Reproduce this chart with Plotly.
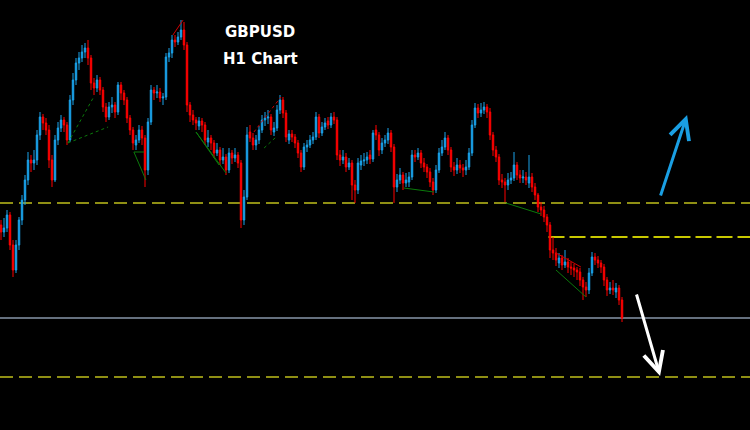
import plotly.graph_objects as go

# GBPUSD H1 bars (left to right)
open_ = [1.3005,1.2998,1.3002,1.3015,1.2985,1.2960,1.2985,1.3010,1.3030,1.3050,
         1.3070,1.3067,1.3070,1.3095,1.3113,1.3107,1.3100,1.3070,1.3050,1.3090,
         1.3102,1.3110,1.3105,1.3090,1.3130,1.3150,1.3167,1.3172,1.3178,1.3182,
         1.3172,1.3147,1.3142,1.3150,1.3140,1.3123,1.3113,1.3123,1.3125,1.3118,
         1.3145,1.3137,1.3130,1.3112,1.3100,1.3085,1.3090,1.3100,1.3092,1.3060,
         1.3108,1.3140,1.3137,1.3138,1.3132,1.3133,1.3173,1.3177,1.3190,1.3188,
         1.3193,1.3200,1.3185,1.3125,1.3115,1.3110,1.3104,1.3109,1.3105,1.3088,
         1.3092,1.3087,1.3077,1.3080,1.3070,1.3073,1.3060,1.3077,1.3072,1.3075,
         1.3067,1.3010,1.3033,1.3098,1.3092,1.3085,1.3090,1.3100,1.3110,1.3112,
         1.3113,1.3098,1.3102,1.3120,1.3130,1.3117,1.3090,1.3096,1.3093,1.3087,
         1.3077,1.3063,1.3083,1.3085,1.3090,1.3093,1.3113,1.3097,1.3103,1.3109,
         1.3105,1.3113,1.3110,1.3075,1.3070,1.3073,1.3063,1.3067,1.3045,1.3040,
         1.3065,1.3069,1.3070,1.3075,1.3071,1.3100,1.3095,1.3080,1.3087,1.3090,
         1.3097,1.3083,1.3043,1.3050,1.3055,1.3047,1.3048,1.3053,1.3075,1.3073,
         1.3077,1.3067,1.3063,1.3058,1.3048,1.3040,1.3060,1.3077,1.3083,1.3092,
         1.3080,1.3063,1.3060,1.3065,1.3062,1.3060,1.3063,1.3077,1.3105,1.3122,
         1.3117,1.3120,1.3123,1.3118,1.3095,1.3080,1.3073,1.3050,1.3048,1.3045,
         1.3050,1.3052,1.3065,1.3055,1.3052,1.3053,1.3047,1.3053,1.3043,1.3035,
         1.3023,1.3020,1.3013,1.3005,1.2980,1.2977,1.2967,1.2972,1.2965,1.2968,
         1.2963,1.2962,1.2960,1.2958,1.2950,1.2943,1.2940,1.2957,1.2973,1.2970,
         1.2967,1.2963,1.2950,1.2940,1.2942,1.2938,1.2942,1.2930]
high = [1.3010,1.3012,1.3020,1.3018,1.2990,1.2990,1.3013,1.3035,1.3055,1.3078,
        1.3075,1.3080,1.3100,1.3118,1.3116,1.3112,1.3105,1.3075,1.3095,1.3108,
        1.3115,1.3113,1.3108,1.3135,1.3157,1.3172,1.3178,1.3185,1.3187,1.3190,
        1.3175,1.3152,1.3155,1.3153,1.3143,1.3127,1.3128,1.3133,1.3128,1.3148,
        1.3148,1.3140,1.3133,1.3115,1.3103,1.3095,1.3105,1.3104,1.3095,1.3112,
        1.3145,1.3143,1.3145,1.3142,1.3137,1.3177,1.3182,1.3195,1.3195,1.3198,
        1.3210,1.3208,1.3188,1.3128,1.3120,1.3113,1.3113,1.3112,1.3108,1.3100,
        1.3095,1.3090,1.3087,1.3083,1.3082,1.3076,1.3082,1.3080,1.3082,1.3078,
        1.3070,1.3040,1.3103,1.3105,1.3097,1.3095,1.3104,1.3115,1.3118,1.3120,
        1.3116,1.3108,1.3125,1.3135,1.3133,1.3120,1.3100,1.3100,1.3096,1.3090,
        1.3080,1.3087,1.3090,1.3095,1.3098,1.3118,1.3116,1.3108,1.3112,1.3113,
        1.3117,1.3118,1.3113,1.3080,1.3080,1.3077,1.3072,1.3070,1.3050,1.3072,
        1.3075,1.3077,1.3078,1.3080,1.3100,1.3105,1.3098,1.3092,1.3095,1.3102,
        1.3100,1.3086,1.3056,1.3062,1.3058,1.3057,1.3058,1.3080,1.3080,1.3082,
        1.3080,1.3072,1.3066,1.3062,1.3052,1.3065,1.3082,1.3090,1.3098,1.3095,
        1.3083,1.3068,1.3072,1.3070,1.3066,1.3070,1.3082,1.3110,1.3127,1.3126,
        1.3127,1.3128,1.3126,1.3122,1.3098,1.3084,1.3076,1.3056,1.3052,1.3057,
        1.3058,1.3078,1.3068,1.3060,1.3060,1.3058,1.3075,1.3057,1.3047,1.3037,
        1.3028,1.3024,1.3016,1.3008,1.2993,1.2982,1.2977,1.2975,1.2980,1.2972,
        1.2968,1.2966,1.2963,1.2962,1.2953,1.2948,1.2962,1.2978,1.2977,1.2974,
        1.2970,1.2966,1.2953,1.2948,1.2950,1.2947,1.2945,1.2933]
low = [1.2990,1.2993,1.2998,1.2980,1.2953,1.2957,1.2980,1.3005,1.3025,1.3045,
       1.3058,1.3060,1.3065,1.3090,1.3100,1.3095,1.3062,1.3043,1.3048,1.3085,
       1.3098,1.3098,1.3085,1.3088,1.3125,1.3145,1.3160,1.3168,1.3172,1.3165,
       1.3140,1.3135,1.3138,1.3135,1.3118,1.3108,1.3110,1.3117,1.3112,1.3115,
       1.3130,1.3125,1.3107,1.3095,1.3080,1.3080,1.3087,1.3085,1.3043,1.3055,
       1.3105,1.3130,1.3132,1.3128,1.3125,1.3130,1.3168,1.3172,1.3183,1.3185,
       1.3190,1.3180,1.3118,1.3108,1.3105,1.3100,1.3100,1.3098,1.3085,1.3083,
       1.3080,1.3072,1.3074,1.3065,1.3066,1.3055,1.3057,1.3066,1.3068,1.3062,
       1.3002,1.3005,1.3030,1.3088,1.3080,1.3080,1.3086,1.3097,1.3104,1.3106,
       1.3095,1.3094,1.3099,1.3116,1.3112,1.3088,1.3086,1.3088,1.3082,1.3072,
       1.3058,1.3060,1.3078,1.3082,1.3086,1.3090,1.3092,1.3094,1.3100,1.3101,
       1.3102,1.3106,1.3070,1.3064,1.3066,1.3058,1.3060,1.3030,1.3027,1.3036,
       1.3060,1.3064,1.3066,1.3066,1.3068,1.3090,1.3074,1.3076,1.3083,1.3086,
       1.3078,1.3027,1.3038,1.3046,1.3040,1.3043,1.3043,1.3050,1.3068,1.3070,
       1.3062,1.3058,1.3052,1.3043,1.3035,1.3037,1.3057,1.3074,1.3080,1.3075,
       1.3058,1.3054,1.3056,1.3057,1.3053,1.3055,1.3060,1.3074,1.3102,1.3112,
       1.3113,1.3116,1.3112,1.3090,1.3074,1.3068,1.3045,1.3042,1.3028,1.3040,
       1.3046,1.3049,1.3050,1.3047,1.3047,1.3045,1.3042,1.3038,1.3030,1.3018,
       1.3014,1.3008,1.2998,1.2972,1.2970,1.2964,1.2962,1.2960,1.2962,1.2957,
       1.2955,1.2953,1.2950,1.2944,1.2930,1.2933,1.2936,1.2954,1.2965,1.2962,
       1.2957,1.2944,1.2934,1.2936,1.2935,1.2932,1.2925,1.2908]
close = [1.2998,1.3002,1.3015,1.2985,1.2960,1.2985,1.3010,1.3030,1.3050,1.3070,
         1.3067,1.3070,1.3095,1.3113,1.3107,1.3100,1.3070,1.3050,1.3090,1.3102,
         1.3110,1.3105,1.3090,1.3130,1.3150,1.3167,1.3172,1.3178,1.3182,1.3172,
         1.3147,1.3142,1.3150,1.3140,1.3123,1.3113,1.3123,1.3125,1.3118,1.3145,
         1.3137,1.3130,1.3112,1.3100,1.3087,1.3090,1.3100,1.3092,1.3060,1.3108,
         1.3140,1.3137,1.3138,1.3132,1.3133,1.3173,1.3177,1.3190,1.3188,1.3193,
         1.3200,1.3185,1.3125,1.3115,1.3110,1.3107,1.3109,1.3105,1.3090,1.3092,
         1.3087,1.3077,1.3080,1.3070,1.3073,1.3060,1.3077,1.3072,1.3075,1.3067,
         1.3010,1.3033,1.3095,1.3092,1.3085,1.3090,1.3100,1.3110,1.3112,1.3113,
         1.3100,1.3102,1.3120,1.3130,1.3117,1.3093,1.3096,1.3093,1.3087,1.3077,
         1.3063,1.3083,1.3085,1.3090,1.3093,1.3113,1.3097,1.3103,1.3107,1.3105,
         1.3113,1.3110,1.3075,1.3070,1.3073,1.3063,1.3067,1.3045,1.3040,1.3067,
         1.3069,1.3070,1.3073,1.3071,1.3097,1.3095,1.3080,1.3087,1.3090,1.3097,
         1.3083,1.3043,1.3050,1.3055,1.3047,1.3050,1.3053,1.3075,1.3073,1.3077,
         1.3067,1.3063,1.3058,1.3048,1.3040,1.3060,1.3077,1.3083,1.3092,1.3080,
         1.3063,1.3060,1.3065,1.3062,1.3060,1.3063,1.3077,1.3105,1.3122,1.3117,
         1.3120,1.3123,1.3118,1.3095,1.3080,1.3073,1.3050,1.3048,1.3045,1.3050,
         1.3052,1.3065,1.3055,1.3052,1.3053,1.3050,1.3053,1.3043,1.3035,1.3023,
         1.3020,1.3013,1.3005,1.2980,1.2977,1.2970,1.2972,1.2965,1.2968,1.2963,
         1.2962,1.2960,1.2958,1.2950,1.2943,1.2940,1.2957,1.2973,1.2970,1.2967,
         1.2963,1.2950,1.2940,1.2942,1.2940,1.2942,1.2930,1.2912]
bars = list(range(len(close)))

# horizontal levels
level_upper = 1.3027
level_mid = 1.2993
level_target = 1.2853
level_mid_start_bar = 182.5

# pattern lines: (bar0, price0, bar1, price1, colour, dash)
pattern_lines = [
    (22.3, 1.3087, 30.7, 1.3132, "#0b7a0b", "dot"),
    (22.3, 1.3087, 35.7, 1.3103, "#0b7a0b", "dot"),
    (44.3, 1.3078, 47.7, 1.3078, "#0b7a0b", "solid"),
    (44.3, 1.3078, 48.3, 1.3050, "#0b7a0b", "solid"),
    (65.0, 1.3098, 75.0, 1.3057, "#0b7a0b", "solid"),
    (65.0, 1.3098, 72.7, 1.3065, "#0b7a0b", "solid"),
    (57.3, 1.3195, 60.7, 1.3210, "#d00000", "solid"),
    (84.3, 1.3098, 93.3, 1.3133, "#d00000", "dot"),
    (87.7, 1.3082, 91.7, 1.3093, "#0b7a0b", "dot"),
    (134.3, 1.3042, 144.3, 1.3038, "#0b7a0b", "solid"),
    (168.3, 1.3027, 180.0, 1.3016, "#0b7a0b", "solid"),
    (185.0, 1.2960, 195.0, 1.2933, "#0b7a0b", "solid"),
    (185.0, 1.2977, 193.3, 1.2963, "#d00000", "solid"),
]

# arrows: (tail bar, tail price, head bar, head price, colour)
arrows = [
    (219.7, 1.3033, 228.7, 1.3115, "#1a9fe3"),
    (211.7, 1.2937, 219.7, 1.2854, "#ffffff"),
]

fig = go.Figure()
fig.add_trace(go.Candlestick(
    x=bars, open=open_, high=high, low=low, close=close,
    increasing=dict(line=dict(color="#1aa3ea", width=1), fillcolor="#1aa3ea"),
    decreasing=dict(line=dict(color="#ff0000", width=1), fillcolor="#ff0000"),
    whiskerwidth=0, showlegend=False, hoverinfo="skip",
))

shapes = []
olive = "#8f8f14"
shapes.append(dict(type="line", xref="paper", x0=0, x1=1, yref="y", y0=level_upper, y1=level_upper,
                   line=dict(color=olive, width=2, dash="13px,6px"), layer="below"))
shapes.append(dict(type="line", xref="x", x0=level_mid_start_bar, x1=260, yref="y", y0=level_mid, y1=level_mid,
                   line=dict(color="#c8c800", width=2, dash="16px,5px"), layer="below"))
shapes.append(dict(type="line", xref="paper", x0=0, x1=1, yref="y", y0=level_target, y1=level_target,
                   line=dict(color=olive, width=2, dash="13px,6px"), layer="below"))
shapes.append(dict(type="line", xref="paper", x0=0, x1=1, yref="y", y0=close[-1], y1=close[-1],
                   line=dict(color="#8796a8", width=1.5), layer="below"))
for b0, p0, b1, p1, col, dash in pattern_lines:
    shapes.append(dict(type="line", xref="x", yref="y", x0=b0, y0=p0, x1=b1, y1=p1,
                       line=dict(color=col, width=1, dash=dash)))

annotations = []
for tb, tp, hb, hp, col in arrows:
    annotations.append(dict(x=hb, y=hp, ax=tb, ay=tp, xref="x", yref="y", axref="x", ayref="y",
                            showarrow=True, arrowhead=5, arrowsize=1.3, arrowwidth=3,
                            arrowcolor=col, text=""))
annotations.append(dict(x=260/750, y=1-32/430, xref="paper", yref="paper", text="<b>GBPUSD</b>",
                        showarrow=False, font=dict(family="DejaVu Sans", size=15, color="white"),
                        xanchor="center", yanchor="middle"))
annotations.append(dict(x=260/750, y=1-59/430, xref="paper", yref="paper", text="<b>H1 Chart</b>",
                        showarrow=False, font=dict(family="DejaVu Sans", size=15, color="white"),
                        xanchor="center", yanchor="middle"))

fig.update_layout(
    width=750, height=430,
    margin=dict(l=0, r=0, t=0, b=0),
    paper_bgcolor="black", plot_bgcolor="black",
    xaxis=dict(visible=False, range=[-1/3, 250-1/3], rangeslider=dict(visible=False), fixedrange=True),
    yaxis=dict(visible=False, range=[1.2800, 1.3230], fixedrange=True),
    shapes=shapes, annotations=annotations,
    showlegend=False,
)
fig.write_html("out.html", config={"displayModeBar": False},
               post_script="document.body.style.margin='0';document.body.style.background='black';")
